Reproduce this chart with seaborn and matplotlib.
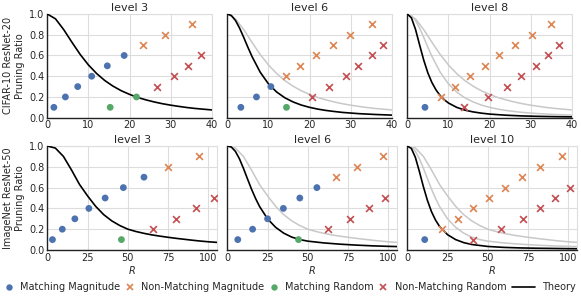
import numpy as np
import pandas as pd
import matplotlib
matplotlib.use("Agg")
import matplotlib.pyplot as plt
from matplotlib.lines import Line2D
import seaborn as sns

sns.set_theme(style="whitegrid", palette="deep")
plt.rcParams["font.family"] = ["DejaVu Sans"]

# ---------------- data ----------------
levels_top = ["level 3", "level 6", "level 8"]
levels_bot = ["level 3", "level 6", "level 10"]
row_labels = ["CIFAR-10 ResNet-20\nPruning Ratio", "ImageNet ResNet-50\nPruning Ratio"]

# CIFAR-10 ResNet-20
c3_mm_x = [1.6, 4.4, 7.4, 10.8, 14.6, 18.7]; c3_mm_y = [0.1, 0.2, 0.3, 0.4, 0.5, 0.6]
c3_mr_x = [15.3, 21.7];                      c3_mr_y = [0.1, 0.2]
c3_nm_x = [23.4, 28.6, 35.2];                c3_nm_y = [0.7, 0.8, 0.9]
c3_nr_x = [26.8, 30.8, 34.3, 37.5];          c3_nr_y = [0.3, 0.4, 0.5, 0.6]

c6_mm_x = [3.3, 7.1, 10.6];                  c6_mm_y = [0.1, 0.2, 0.3]
c6_mr_x = [14.4];                            c6_mr_y = [0.1]
c6_nm_x = [14.2, 17.8, 21.6, 25.6, 29.9, 35.1]; c6_nm_y = [0.4, 0.5, 0.6, 0.7, 0.8, 0.9]
c6_nr_x = [20.5, 24.8, 29.0, 31.9, 35.2, 38.0]; c6_nr_y = [0.2, 0.3, 0.4, 0.5, 0.6, 0.7]

c8_mm_x = [4.3];                             c8_mm_y = [0.1]
c8_mr_x = [];                                c8_mr_y = []
c8_nm_x = [8.1, 11.7, 15.2, 18.8, 22.4, 26.1, 30.3, 34.9]; c8_nm_y = [0.2, 0.3, 0.4, 0.5, 0.6, 0.7, 0.8, 0.9]
c8_nr_x = [13.9, 19.7, 24.3, 27.7, 31.2, 34.3, 37.0];      c8_nr_y = [0.1, 0.2, 0.3, 0.4, 0.5, 0.6, 0.7]

# ImageNet ResNet-50
i3_mm_x = [3.2, 9.3, 17.1, 25.8, 35.9, 47.2, 60.0]; i3_mm_y = [0.1, 0.2, 0.3, 0.4, 0.5, 0.6, 0.7]
i3_mr_x = [46.0];                            i3_mr_y = [0.1]
i3_nm_x = [75.2, 94.2];                      i3_nm_y = [0.8, 0.9]
i3_nr_x = [65.3, 80.1, 92.5, 103.5];         i3_nr_y = [0.2, 0.3, 0.4, 0.5]

i6_mm_x = [6.5, 15.7, 25.0, 34.8, 45.0, 55.6]; i6_mm_y = [0.1, 0.2, 0.3, 0.4, 0.5, 0.6]
i6_mr_x = [44.2];                            i6_mr_y = [0.1]
i6_nm_x = [67.5, 80.8, 96.7];                i6_nm_y = [0.7, 0.8, 0.9]
i6_nr_x = [62.5, 76.3, 88.0, 98.1];          i6_nr_y = [0.2, 0.3, 0.4, 0.5]

i10_mm_x = [10.8];                           i10_mm_y = [0.1]
i10_mr_x = [];                               i10_mr_y = []
i10_nm_x = [21.3, 31.2, 40.6, 50.4, 60.6, 71.0, 82.5, 95.8]; i10_nm_y = [0.2, 0.3, 0.4, 0.5, 0.6, 0.7, 0.8, 0.9]
i10_nr_x = [41.0, 58.0, 71.7, 82.2, 91.8, 100.8];           i10_nr_y = [0.1, 0.2, 0.3, 0.4, 0.5, 0.6]

# Theory curves
cR3 = [0, 2, 4, 6, 8, 10, 12, 14, 16, 18, 20, 22, 24, 26, 28, 30, 32, 34, 36, 38, 40]
cT3 = [1.0, 0.953, 0.849, 0.727, 0.610, 0.509, 0.426, 0.358, 0.304, 0.260, 0.225,
       0.195, 0.172, 0.152, 0.135, 0.121, 0.109, 0.098, 0.089, 0.082, 0.075]
cR6 = [0, 1, 2, 3, 4, 5, 6, 8, 10, 12, 14, 16, 18, 20, 22, 24, 26, 28, 30, 32, 34, 36, 38, 40]
cT6 = [1.0, 0.985, 0.937, 0.863, 0.774, 0.680, 0.591, 0.439, 0.327, 0.248, 0.192, 0.152,
       0.122, 0.100, 0.083, 0.070, 0.060, 0.051, 0.045, 0.039, 0.035, 0.031, 0.028, 0.025]
cR8 = [0, 1, 2, 3, 4, 5, 6, 7, 8, 9, 10, 12, 14, 16, 18, 20, 24, 28, 32, 36, 40]
cT8 = [1.0, 0.963, 0.851, 0.701, 0.555, 0.432, 0.338, 0.267, 0.213, 0.173, 0.142, 0.100,
       0.073, 0.056, 0.044, 0.035, 0.024, 0.017, 0.013, 0.010, 0.008]

iR3 = [0, 5, 10, 15, 20, 25, 30, 35, 40, 45, 50, 55, 60, 65, 70, 75, 80, 85, 90, 95, 100, 105.5]
iT3 = [1.0, 0.98, 0.90, 0.77, 0.63, 0.52, 0.42, 0.34, 0.28, 0.235, 0.20, 0.178, 0.16,
       0.145, 0.133, 0.122, 0.112, 0.103, 0.094, 0.086, 0.079, 0.073]
iR6 = [0, 2.5, 5, 7.5, 10, 12.5, 15, 17.5, 20, 25, 30, 35, 40, 45, 50, 60, 70, 80, 90, 100, 105.5]
iT6 = [1.0, 0.990, 0.949, 0.878, 0.786, 0.685, 0.586, 0.497, 0.419, 0.299, 0.218, 0.162,
       0.124, 0.100, 0.085, 0.068, 0.056, 0.047, 0.040, 0.035, 0.033]
iR10 = [0, 2.5, 5, 7.5, 10, 12.5, 15, 17.5, 20, 25, 30, 35, 40, 50, 60, 70, 80, 90, 100, 105.5]
iT10 = [1.0, 0.977, 0.891, 0.755, 0.608, 0.476, 0.369, 0.288, 0.227, 0.147, 0.100, 0.071,
        0.053, 0.034, 0.025, 0.020, 0.017, 0.015, 0.013, 0.012]

legend_labels = ["Matching Magnitude", "Non-Matching Magnitude", "Matching Random",
                 "Non-Matching Random", "Theory"]

# ---------------- style ----------------
COL_MM = "#4C72B0"
COL_NM = "#DD8452"
COL_MR = "#55A868"
COL_NR = "#C44E52"
GRAY = "#c8c8c8"

panels = [
    (0, 0, levels_top[0], (c3_mm_x, c3_mm_y), (c3_mr_x, c3_mr_y), (c3_nm_x, c3_nm_y), (c3_nr_x, c3_nr_y),
     (cR3, cT3), []),
    (0, 1, levels_top[1], (c6_mm_x, c6_mm_y), (c6_mr_x, c6_mr_y), (c6_nm_x, c6_nm_y), (c6_nr_x, c6_nr_y),
     (cR6, cT6), [(cR3, cT3)]),
    (0, 2, levels_top[2], (c8_mm_x, c8_mm_y), (c8_mr_x, c8_mr_y), (c8_nm_x, c8_nm_y), (c8_nr_x, c8_nr_y),
     (cR8, cT8), [(cR3, cT3), (cR6, cT6)]),
    (1, 0, levels_bot[0], (i3_mm_x, i3_mm_y), (i3_mr_x, i3_mr_y), (i3_nm_x, i3_nm_y), (i3_nr_x, i3_nr_y),
     (iR3, iT3), []),
    (1, 1, levels_bot[1], (i6_mm_x, i6_mm_y), (i6_mr_x, i6_mr_y), (i6_nm_x, i6_nm_y), (i6_nr_x, i6_nr_y),
     (iR6, iT6), [(iR3, iT3)]),
    (1, 2, levels_bot[2], (i10_mm_x, i10_mm_y), (i10_mr_x, i10_mr_y), (i10_nm_x, i10_nm_y), (i10_nr_x, i10_nr_y),
     (iR10, iT10), [(iR3, iT3), (iR6, iT6)]),
]

W, H = 581, 297
fig = plt.figure(figsize=(W / 100, H / 100), dpi=100)

lefts = [47.3, 227.3, 407.3]
row_geom = {0: (14.0, 117.7, 164.4), 1: (146.0, 250.0, 170.0)}
FS = 7

for (r, c, title, mm, mr, nm, nr, theory, prev) in panels:
    top, bot, wpx = row_geom[r]
    ax = fig.add_axes([lefts[c] / W, 1 - bot / H, wpx / W, (bot - top) / H])
    for (pr, pt) in prev:
        sns.lineplot(x=pr, y=pt, ax=ax, color=GRAY, lw=1.1, sort=False, estimator=None, zorder=2)
    sns.lineplot(x=theory[0], y=theory[1], ax=ax, color="black", lw=1.2, sort=False,
                 estimator=None, zorder=3)
    if len(mm[0]):
        sns.scatterplot(x=mm[0], y=mm[1], ax=ax, color=COL_MM, marker="o", s=24,
                        edgecolor="none", zorder=4)
    if len(mr[0]):
        sns.scatterplot(x=mr[0], y=mr[1], ax=ax, color=COL_MR, marker="o", s=24,
                        edgecolor="none", zorder=4)
    if len(nm[0]):
        sns.scatterplot(x=nm[0], y=nm[1], ax=ax, color=COL_NM, marker="x", s=24,
                        linewidth=1.2, zorder=4)
    if len(nr[0]):
        sns.scatterplot(x=nr[0], y=nr[1], ax=ax, color=COL_NR, marker="x", s=24,
                        linewidth=1.2, zorder=4)

    ax.set_ylim(0, 1)
    if r == 0:
        ax.set_xlim(0, 40)
        ax.set_xticks([0, 10, 20, 30, 40])
    else:
        ax.set_xlim(0, 105.5)
        ax.set_xticks([0, 25, 50, 75, 100])
        ax.set_xlabel("$R$", fontsize=FS, labelpad=1)
    ax.set_yticks([0, 0.2, 0.4, 0.6, 0.8, 1.0])
    if c == 0:
        ax.set_yticklabels(["0.0", "0.2", "0.4", "0.6", "0.8", "1.0"])
        ax.set_ylabel(row_labels[r], fontsize=FS, labelpad=3)
    else:
        ax.set_yticklabels([])
    ax.tick_params(labelsize=FS, pad=2, length=0)
    ax.set_title(title, fontsize=8, pad=2.5)
    ax.grid(True, color="#dddddd", lw=0.8)
    for s in ["left", "bottom"]:
        ax.spines[s].set_color("#222222")
        ax.spines[s].set_linewidth(1.0)
    for s in ["top", "right"]:
        ax.spines[s].set_color("#dddddd")
        ax.spines[s].set_linewidth(0.8)

marker_handles = [
    Line2D([], [], marker="o", ls="none", color=COL_MM, markersize=4.6, markeredgewidth=0),
    Line2D([], [], marker="x", ls="none", color=COL_NM, markersize=5, markeredgewidth=1.2),
    Line2D([], [], marker="o", ls="none", color=COL_MR, markersize=4.6, markeredgewidth=0),
    Line2D([], [], marker="x", ls="none", color=COL_NR, markersize=5, markeredgewidth=1.2),
]
ly = 1 - 287 / H
leg1 = fig.legend(marker_handles, legend_labels[:4], loc="center left",
                  bbox_to_anchor=(4 / W, ly), ncol=4, frameon=False, fontsize=FS,
                  handlelength=1.0, handletextpad=0.65, columnspacing=0.5,
                  borderaxespad=0, borderpad=0)
leg2 = fig.legend([Line2D([], [], color="black", lw=1.2)], legend_labels[4:],
                  loc="center left", bbox_to_anchor=(512 / W, ly), frameon=False,
                  fontsize=FS, handlelength=2.4, handletextpad=0.7,
                  borderaxespad=0, borderpad=0)

fig.savefig("out.png", dpi=100)
